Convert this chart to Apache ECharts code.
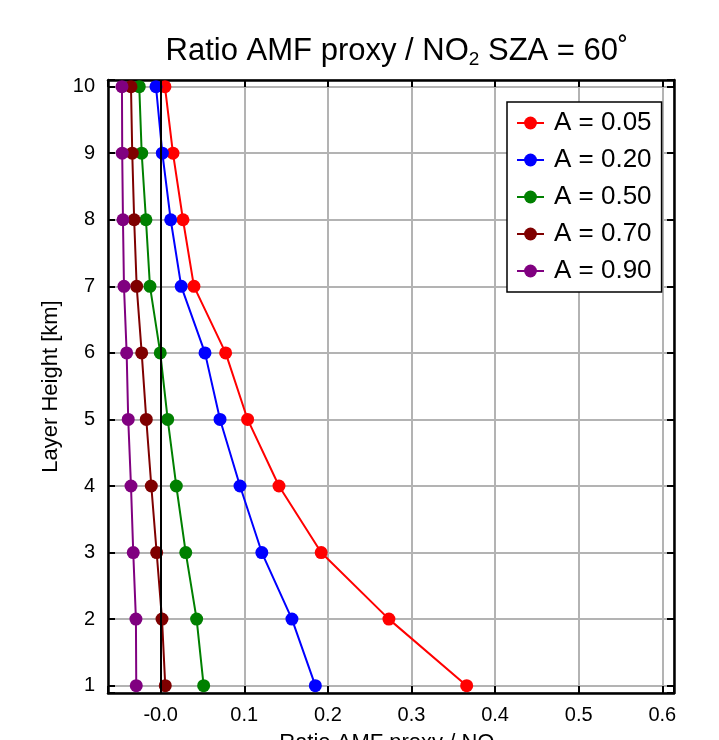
<!DOCTYPE html>
<html>
<head>
<meta charset="utf-8">
<script src="https://cdn.jsdelivr.net/npm/echarts@6/dist/echarts.min.js"></script>
<style>html,body{margin:0;padding:0;background:#fff;}#c{width:719px;height:740px;}</style>
</head>
<body>
<div id="c"></div>
<script>
var heights = [1, 2, 3, 4, 5, 6, 7, 8, 9, 10];
var seriesNames = ['A = 0.05', 'A = 0.20', 'A = 0.50', 'A = 0.70', 'A = 0.90'];
var seriesColors = ['#ff0000', '#0000ff', '#008000', '#7f0000', '#800080'];
var ratioA005 = [0.366, 0.273, 0.192, 0.1415, 0.104, 0.0777, 0.0398, 0.0267, 0.0147, 0.0051];
var ratioA020 = [0.185, 0.157, 0.121, 0.0949, 0.071, 0.053, 0.0246, 0.0120, 0.0020, -0.0056];
var ratioA050 = [0.0514, 0.043, 0.030, 0.0187, 0.0084, -0.0005, -0.0128, -0.0176, -0.0227, -0.0256];
var ratioA070 = [0.0055, 0.0016, -0.0048, -0.0112, -0.0172, -0.0227, -0.0287, -0.0317, -0.0340, -0.0355];
var ratioA090 = [-0.0292, -0.0296, -0.0328, -0.0355, -0.0388, -0.0407, -0.0439, -0.0451, -0.0460, -0.0463];
var allRatios = [ratioA005, ratioA020, ratioA050, ratioA070, ratioA090];
var xMin = -0.063, xMax = 0.614;
var yMin = 0.89, yMax = 10.1;

var chart = echarts.init(document.getElementById('c'), null, {renderer: 'canvas'});
var FONT = 'Liberation Sans, Arial, sans-serif';
var gridColor = '#b3b3b3';

function xLabel(v) {
  if (Math.abs(v) < 1e-9) return '-0.0';
  var r = Math.round(v * 10) / 10;
  if (Math.abs(r - v) > 1e-6) return '';
  return r.toFixed(1);
}
function yLabel(v) {
  var r = Math.round(v);
  if (Math.abs(r - v) > 1e-6) return '';
  return String(r);
}

var series = allRatios.map(function (vals, i) {
  return {
    name: seriesNames[i],
    type: 'line',
    data: vals.map(function (v, j) { return [v, heights[j]]; }),
    symbol: 'circle',
    symbolSize: 13,
    lineStyle: {color: seriesColors[i], width: 2},
    itemStyle: {color: seriesColors[i]},
    z: 3,
    animation: false
  };
});
series.unshift({
  type: 'line',
  data: [],
  silent: true,
  z: 2,
  markLine: {
    silent: true,
    symbol: 'none',
    label: {show: false},
    lineStyle: {color: '#000', width: 2, type: 'solid'},
    data: [{xAxis: 0}],
    animation: false
  }
});

var option = {
  backgroundColor: '#fff',
  animation: false,
  title: {
    text: 'Ratio AMF proxy / NO{sub|2} SZA = 60{deg|˚}',
    left: 392, top: 28, textAlign: 'center',
    textStyle: {
      fontFamily: FONT, fontSize: 31, fontWeight: 'normal', color: '#000',
      rich: {
        sub: {fontFamily: FONT, fontSize: 19, verticalAlign: 'bottom', padding: [17, 0, 0, 0], color: '#000'},
        deg: {fontFamily: FONT, fontSize: 31, color: '#000'}
      }
    }
  },
  grid: {left: 108, right: 45, top: 80, bottom: 47, containLabel: false, outerBoundsMode: 'none'},
  legend: {
    orient: 'vertical',
    left: 507, top: 102,
    padding: [8, 10, 8, 9],
    itemGap: 11,
    itemWidth: 27, itemHeight: 16,
    backgroundColor: '#fff',
    borderColor: '#000', borderWidth: 1.5, borderRadius: 0,
    data: seriesNames,
    textStyle: {fontFamily: FONT, fontSize: 26, color: '#000', lineHeight: 26, padding: [0, 0, 0, 5]}
  },
  xAxis: [{
    type: 'value', min: xMin, max: xMax, splitNumber: 7,
    name: 'Ratio AMF proxy / NO{sub|2}', nameLocation: 'middle', nameGap: 37,
    nameTextStyle: {fontFamily: FONT, fontSize: 22, color: '#000',
      rich: {sub: {fontFamily: FONT, fontSize: 15, padding: [10, 0, 0, 0], color: '#000'}}},
    axisLine: {show: true, onZero: false, lineStyle: {color: '#000', width: 2.5}},
    axisTick: {show: true, inside: true, length: 7, lineStyle: {color: '#000', width: 2}},
    axisLabel: {formatter: xLabel, fontFamily: FONT, fontSize: 20, color: '#000', margin: 12, showMinLabel: true, showMaxLabel: true},
    splitLine: {show: true, lineStyle: {color: gridColor, width: 2}}
  }, {
    type: 'value', min: xMin, max: xMax, splitNumber: 7, position: 'top',
    axisLine: {show: true, onZero: false, lineStyle: {color: '#000', width: 2.5}},
    axisTick: {show: true, inside: true, length: 7, lineStyle: {color: '#000', width: 2}},
    axisLabel: {show: false},
    splitLine: {show: false}
  }],
  yAxis: [{
    type: 'value', min: yMin, max: yMax, splitNumber: 9,
    name: 'Layer Height [km]', nameLocation: 'middle', nameGap: 45, nameRotate: 90,
    nameTextStyle: {fontFamily: FONT, fontSize: 22, color: '#000'},
    axisLine: {show: true, onZero: false, lineStyle: {color: '#000', width: 2.5}},
    axisTick: {show: true, inside: true, length: 7, lineStyle: {color: '#000', width: 2}},
    axisLabel: {formatter: yLabel, fontFamily: FONT, fontSize: 20, color: '#000', margin: 13},
    splitLine: {show: true, lineStyle: {color: gridColor, width: 2}}
  }, {
    type: 'value', min: yMin, max: yMax, splitNumber: 9, position: 'right',
    axisLine: {show: true, onZero: false, lineStyle: {color: '#000', width: 2.5}},
    axisTick: {show: true, inside: true, length: 7, lineStyle: {color: '#000', width: 2}},
    axisLabel: {show: false},
    splitLine: {show: false}
  }],
  series: series
};
chart.setOption(option);
</script>
</body>
</html>
